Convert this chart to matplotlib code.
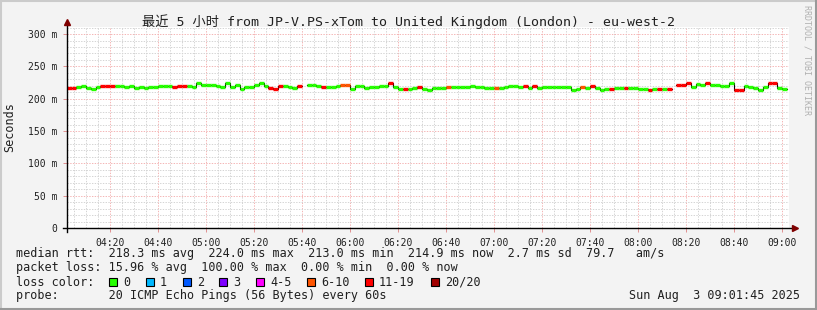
import numpy as np
import matplotlib.pyplot as plt
from matplotlib.lines import Line2D
from matplotlib.patches import Rectangle


################ DATA ################
title = "最近 5 小时 from JP-V.PS-xTom to United Kingdom (London) - eu-west-2"

t_start = 242   # 04:02, minutes since midnight
t_step  = 2     # one sample every 2 min

# median rtt [ms], nan = no data
median_ms = [
    216.0, 216.0, 217.5, 219.6, 216.0, 214.4, 217.5, 219.6, 219.6, 219.6,
    219.6, 219.6, 217.5, 219.6, 216.0, 217.5, 216.0, 217.5, 217.5, 219.6,
    219.6, 219.6, 217.5, 219.6, 219.6, 219.6, 217.5, 223.7, 221.1, 221.1,
    221.1, 219.6, 217.5, 223.7, 218.6, 221.1, 214.4, 217.5, 217.5, 221.1,
    223.7, 219.6, 216.0, 214.4, 219.6, 219.6, 217.5, 216.0, 219.6, np.nan,
    221.1, 221.1, 219.6, 217.5, 217.5, 217.5, 219.6, 221.1, 221.1, 214.4,
    219.6, 219.6, 216.0, 217.5, 217.5, 219.6, 219.6, 223.7, 217.5, 214.4,
    214.4, 214.4, 216.0, 217.5, 214.4, 213.4, 216.0, 216.0, 216.0, 217.5,
    217.5, 217.5, 217.5, 217.5, 219.6, 217.5, 217.5, 216.0, 216.0, 216.0,
    216.0, 217.5, 219.6, 219.6, 217.5, 219.6, 216.0, 219.6, 216.0, 217.5,
    217.5, 217.5, 217.5, 217.5, 217.5, 213.4, 214.4, 217.5, 216.0, 219.6,
    216.0, 213.4, 214.4, 214.4, 216.0, 216.0, 216.0, 216.0, 216.0, 214.4,
    214.4, 213.4, 214.4, 214.4, 214.4, 214.4, np.nan, 221.1, 221.1, 223.7,
    218.6, 222.6, 221.1, 223.7, 221.1, 221.1, 219.6, 219.6, 223.7, 213.4,
    213.4, 219.6, 217.5, 216.0, 213.4, 217.5, 223.7, 223.7, 216.0, 214.4,
]

# lost pings (of 20) per sample
loss = [
    15, 15, 0, 0, 0, 0, 0, 15, 15, 15,
    0, 0, 0, 0, 0, 0, 0, 0, 0, 0,
    0, 0, 15, 15, 15, 0, 0, 0, 0, 0,
    0, 0, 0, 0, 0, 0, 0, 0, 0, 0,
    0, 0, 15, 15, 15, 0, 0, 0, 15, 0,
    0, 0, 0, 15, 0, 0, 0, 8, 8, 0,
    0, 0, 0, 0, 0, 0, 0, 15, 0, 0,
    15, 0, 0, 15, 0, 0, 0, 0, 0, 8,
    0, 0, 0, 0, 0, 0, 0, 0, 0, 8,
    0, 0, 0, 0, 0, 15, 0, 15, 0, 0,
    0, 0, 0, 0, 0, 0, 0, 8, 0, 15,
    0, 0, 0, 15, 0, 0, 15, 0, 0, 0,
    0, 15, 0, 15, 0, 15, 0, 15, 15, 15,
    0, 0, 0, 15, 0, 0, 0, 0, 0, 15,
    15, 0, 0, 0, 0, 0, 15, 15, 0, 0,
]

y_ticks  = [0, 50, 100, 150, 200, 250, 300]
y_labels = ["0", "50 m", "100 m", "150 m", "200 m", "250 m", "300 m"]
x_ticks  = [260, 280, 300, 320, 340, 360, 380, 400, 420, 440, 460, 480, 500, 520, 540]
x_labels = ["04:20", "04:40", "05:00", "05:20", "05:40", "06:00", "06:20", "06:40",
            "07:00", "07:20", "07:40", "08:00", "08:20", "08:40", "09:00"]

loss_names  = ["0", "1", "2", "3", "4-5", "6-10", "11-19", "20/20"]
loss_upper  = [0, 1, 2, 3, 5, 10, 19, 20]
loss_colors = ["#26ff00", "#00b8ff", "#0059ff", "#7e00ff",
               "#ff00ff", "#ff5500", "#ff0000", "#a10000"]

row_rtt   = "median rtt:  218.3 ms avg  224.0 ms max  213.0 ms min  214.9 ms now  2.7 ms sd  79.7   am/s"
row_loss  = "packet loss: 15.96 % avg  100.00 % max  0.00 % min  0.00 % now"
row_probe = "probe:       20 ICMP Echo Pings (56 Bytes) every 60s"
stamp     = "Sun Aug  3 09:01:45 2025"
################ DATA ################


W, H = 817, 310
MONO = "DejaVu Sans Mono"


def loss_color(n):
    for up, c in zip(loss_upper, loss_colors):
        if n <= up:
            return c
    return loss_colors[-1]


fig = plt.figure(figsize=(W / 100, H / 100), dpi=100, facecolor="#f3f3f3")

# plot area in pixels: x 67..789, y 27..228
ax = fig.add_axes([67 / W, 1 - 228 / H, 722 / W, 201 / H], facecolor="white")

vals = np.array(median_ms, dtype=float)
t = t_start + t_step * np.arange(len(vals))

# black step line (gives the dark vertical connectors)
ax.plot(np.append(t, t[-1] + t_step), np.append(vals, vals[-1]),
        drawstyle="steps-post", color="black", lw=0.8, zorder=3)

# coloured median segments by packet loss
ok = ~np.isnan(vals)
cols = [loss_color(n) for n in np.array(loss)[ok]]
ax.hlines(vals[ok], t[ok], t[ok] + t_step, colors=cols, lw=2.4, zorder=4)

ax.set_xlim(242.1, 542.9)
ax.set_ylim(0, 311)

ax.set_xticks(x_ticks)
ax.set_xticklabels(x_labels)
ax.set_xticks(np.arange(245, 545, 5), minor=True)
ax.set_yticks(y_ticks)
ax.set_yticklabels(y_labels)
ax.set_yticks(np.arange(10, 311, 10), minor=True)

ax.set_axisbelow(True)
ax.grid(which="minor", color="#d4d4d4", linestyle=(0, (1.4, 1.4)), lw=0.7)
ax.grid(which="major", color="#f4b4b4", linestyle=(0, (1.4, 1.4)), lw=0.7)

ax.tick_params(which="major", length=3, width=0.7, color="#e09090",
               labelsize=7, pad=4)
ax.tick_params(which="minor", length=0)
for lab in ax.get_xticklabels() + ax.get_yticklabels():
    lab.set_family(MONO)
    lab.set_color("#202020")

for s in ["top", "right", "left", "bottom"]:
    ax.spines[s].set_visible(False)

# axes with arrows
ax.add_line(Line2D([0, 0], [-0.02, 1.02], transform=ax.transAxes,
                   color="black", lw=1, clip_on=False, zorder=5))
ax.add_line(Line2D([-0.006, 1.006], [0, 0], transform=ax.transAxes,
                   color="black", lw=1, clip_on=False, zorder=5))
ax.plot([0], [1.025], marker="^", ms=4.5, color="#7f0000", transform=ax.transAxes, clip_on=False, zorder=6)
ax.plot([1.008], [0], marker=">", ms=4.5, color="#7f0000", transform=ax.transAxes, clip_on=False, zorder=6)

# titles
fig.text(0.5, 1 - 21.5 / H, title, ha="center", va="center", fontsize=9.5,
         family=[MONO, "Noto Sans CJK SC"], color="#202020")
fig.text(10 / W, 1 - 127 / H, "Seconds", rotation=90, ha="center", va="center",
         fontsize=8.5, family=MONO, color="#202020")
fig.text(807 / W, 1 - 5 / H, "RRDTOOL / TOBI OETIKER", rotation=270, ha="center",
         va="top", fontsize=6, family=MONO, color="#b0b0b0")

# legend rows
txt = dict(ha="left", va="center", fontsize=8.5, family=MONO, color="#202020")
fig.text(16 / W, 1 - 254 / H, row_rtt, **txt)
fig.text(16 / W, 1 - 268 / H, row_loss, **txt)
fig.text(16 / W, 1 - 282 / H, "loss color:", **txt)
fig.text(16 / W, 1 - 296 / H, row_probe, **txt)
fig.text(800 / W, 1 - 296 / H, stamp, ha="right", va="center", fontsize=8.5,
         family=MONO, color="#202020")

sq_x = [109, 146, 183, 219, 256, 307, 365, 431]
for x, name, c in zip(sq_x, loss_names, loss_colors):
    fig.add_artist(Rectangle((x / W, 1 - 286 / H), 7.5 / W, 8 / H, transform=fig.transFigure,
                             facecolor=c, edgecolor="black", lw=0.8))
    fig.text((x + 14) / W, 1 - 282 / H, name, **txt)

# 3d frame
fig.add_artist(Line2D([0, 1], [1 - 1 / H, 1 - 1 / H], transform=fig.transFigure, color="#cbcbcb", lw=1.5))
fig.add_artist(Line2D([1 / W, 1 / W], [0, 1], transform=fig.transFigure, color="#cbcbcb", lw=1.5))
fig.add_artist(Line2D([0, 1], [1 / H, 1 / H], transform=fig.transFigure, color="#999999", lw=1.5))
fig.add_artist(Line2D([1 - 1 / W, 1 - 1 / W], [0, 1], transform=fig.transFigure, color="#999999", lw=1.5))

plt.savefig("out.png", dpi=100, facecolor=fig.get_facecolor())
